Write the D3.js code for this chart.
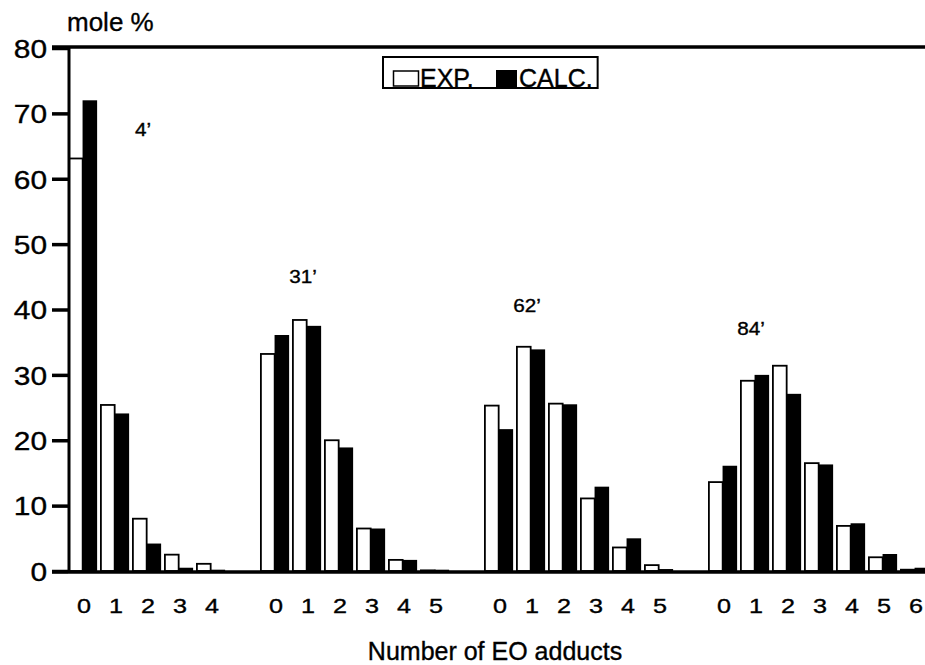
<!DOCTYPE html>
<html>
<head>
<meta charset="utf-8">
<script src="https://cdn.jsdelivr.net/npm/d3@7"></script>
<style>
  html, body { margin: 0; padding: 0; background: #fff; }
  svg { display: block; }
  text { font-family: "Liberation Sans", Arial, Helvetica, sans-serif; fill: #000; stroke: #000; stroke-width: 0.35px; }
</style>
</head>
<body>
<svg id="chart" width="925" height="665"></svg>
<script>
// ---- data ----
const groups = ["4\u2019", "31\u2019", "62\u2019", "84\u2019"];
const adducts = [
  [0, 1, 2, 3, 4],
  [0, 1, 2, 3, 4, 5],
  [0, 1, 2, 3, 4, 5],
  [0, 1, 2, 3, 4, 5, 6]
];
const expValues = [
  [63.1, 25.4, 8.0, 2.5, 1.1],
  [33.2, 38.4, 20.0, 6.5, 1.7, 0.1],
  [25.3, 34.3, 25.6, 11.1, 3.6, 0.9],
  [13.6, 29.1, 31.4, 16.5, 6.9, 2.1, 0.2]
];
const calcValues = [
  [72.0, 24.1, 4.2, 0.5, 0.2],
  [36.1, 37.5, 18.9, 6.5, 1.7, 0.2],
  [21.7, 33.9, 25.5, 12.9, 5.0, 0.3],
  [16.1, 30.0, 27.1, 16.3, 7.3, 2.6, 0.5]
];
const seriesNames = ["EXP.", "CALC."];
const yTicks = [0, 10, 20, 30, 40, 50, 60, 70, 80];
const yLabel = "mole %";
const xLabel = "Number of EO adducts";
// group annotation: slot index it sits over, and height (mole %)
const groupLabelSlot = [2, 1, 1, 1];
const groupLabelValue = [66.5, 44.0, 39.6, 36.1];

// ---- build slots (one spacer slot between groups) ----
const slots = [];
groups.forEach((g, gi) => {
  adducts[gi].forEach((a, ai) => {
    slots.push({ key: gi + "-" + a, group: gi, adduct: a, exp: expValues[gi][ai], calc: calcValues[gi][ai] });
  });
  if (gi < groups.length - 1) slots.push({ key: "gap" + gi, spacer: true });
});

const svg = d3.select("#chart");
const mLeft = 68, mTop = 47, mBottom = 571;
const pitch = 32;

const x = d3.scaleBand()
  .domain(slots.map(d => d.key))
  .range([mLeft, mLeft + slots.length * pitch])
  .padding(0);
const xInner = d3.scaleBand().domain(["exp", "calc"]).range([0, x.bandwidth() * 0.91]).padding(0);
const y = d3.scaleLinear().domain([0, 80]).range([mBottom, mTop + 1]);

// bars
const bars = slots.filter(d => !d.spacer);
svg.append("g").selectAll("rect.calc").data(bars).join("rect")
  .attr("class", "calc")
  .attr("x", d => x(d.key) + xInner("calc"))
  .attr("width", xInner.bandwidth())
  .attr("y", d => y(d.calc))
  .attr("height", d => y(0) - y(d.calc))
  .attr("fill", "#000");
svg.append("g").selectAll("rect.exp").data(bars).join("rect")
  .attr("class", "exp")
  .attr("x", d => x(d.key) + xInner("exp") + 0.9)
  .attr("width", xInner.bandwidth() - 0.8)
  .attr("y", d => y(d.exp))
  .attr("height", d => Math.max(0, y(0) - y(d.exp)))
  .attr("fill", "#fff")
  .attr("stroke", "#000")
  .attr("stroke-width", 1.8);

// y axis
const yAxis = d3.axisLeft(y).tickValues(yTicks).tickSize(16).tickPadding(6);
const gy = svg.append("g").attr("transform", `translate(${mLeft},0)`).call(yAxis);
gy.select(".domain").remove();
gy.selectAll(".tick line").attr("stroke", "#000").attr("stroke-width", 3.5);
gy.selectAll(".tick text")
  .style("font-family", "Liberation Sans, Arial, sans-serif")
  .style("font-size", "26px")
  .attr("fill", "#000")
  .attr("dy", "0.36em")
  .attr("transform", "scale(1.15,1)")
  .attr("x", -21 / 1.15);

// frame lines
svg.append("line").attr("x1", mLeft + 1).attr("x2", mLeft + 1).attr("y1", mTop).attr("y2", mBottom)
  .attr("stroke", "#000").attr("stroke-width", 3);
svg.append("line").attr("x1", 52).attr("x2", 925).attr("y1", mTop).attr("y2", mTop)
  .attr("stroke", "#000").attr("stroke-width", 3.5);
svg.append("line").attr("x1", 52).attr("x2", 925).attr("y1", mBottom + 1).attr("y2", mBottom + 1)
  .attr("stroke", "#000").attr("stroke-width", 3.5);

// x axis labels
const xAxis = d3.axisBottom(x)
  .tickValues(bars.map(d => d.key))
  .tickFormat(k => slots.find(s => s.key === k).adduct)
  .tickSize(0).tickPadding(0);
const gx = svg.append("g").attr("transform", `translate(0,${mBottom})`).call(xAxis);
gx.select(".domain").remove();
gx.selectAll(".tick text")
  .style("font-family", "Liberation Sans, Arial, sans-serif")
  .style("font-size", "21px")
  .attr("fill", "#000")
  .attr("y", 42)
  .attr("dy", 0)
  .attr("transform", "scale(1.2,1)")
  .attr("x", 0);

// group annotations
groups.forEach((g, gi) => {
  const key = gi + "-" + adducts[gi][groupLabelSlot[gi]];
  svg.append("text")
    .attr("transform", `translate(${x(key) + x.bandwidth() / 2 - 5},${y(groupLabelValue[gi])}) scale(1.15,1)`)
    .attr("text-anchor", "middle")
    .style("font-size", "18px")
    .text(g);
});

// axis titles
svg.append("text").attr("x", 67).attr("y", 31).style("font-size", "26px").text(yLabel);
svg.append("text").attr("x", 495).attr("y", 660).attr("text-anchor", "middle")
  .style("font-size", "25px").text(xLabel);

// legend
const lg = svg.append("g");
const expText = lg.append("text").attr("x", 420).attr("y", 87).style("font-size", "25px").text(seriesNames[0]);
const calcText = lg.append("text").attr("x", 519).attr("y", 87).style("font-size", "25px").text(seriesNames[1]);
const calcEnd = 519 + calcText.node().getComputedTextLength();
lg.insert("rect", ":first-child").attr("x", 383).attr("y", 57).attr("width", calcEnd + 5 - 383).attr("height", 31)
  .attr("fill", "#fff").attr("stroke", "#000").attr("stroke-width", 2);
lg.append("rect").attr("x", 393.5).attr("y", 71).attr("width", 25).attr("height", 15)
  .attr("fill", "#fff").attr("stroke", "#000").attr("stroke-width", 1.5);
lg.append("rect").attr("x", 496).attr("y", 70).attr("width", 21).attr("height", 17).attr("fill", "#000");
</script>
</body>
</html>
